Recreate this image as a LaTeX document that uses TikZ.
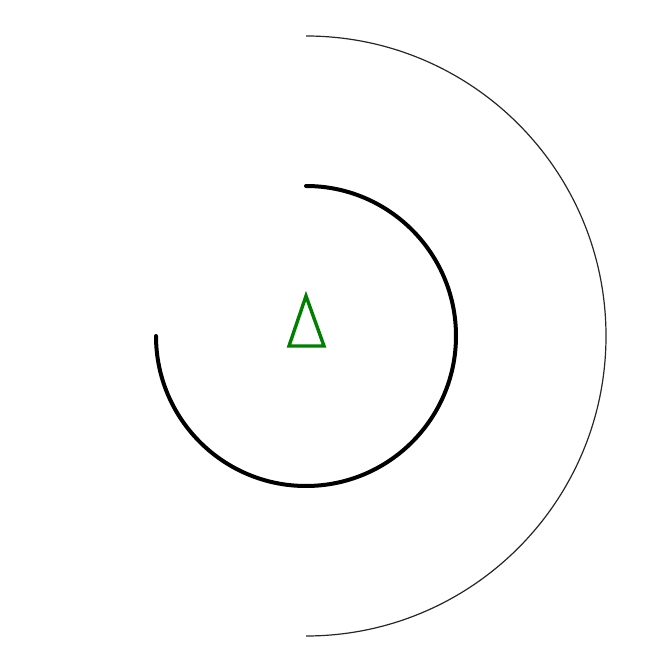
\documentclass[tikz,border=0pt]{standalone}
\definecolor{tgreen}{RGB}{0,128,0}
\begin{document}
\begin{tikzpicture}[x=1pt,y=1pt,
  innerarc/.style={line width=4pt,line cap=round,black},
  outerarc/.style={line width=1.2pt,black!85},
  tri/.style={line width=3.4pt,tgreen}]
\useasboundingbox (0,0) rectangle (648,672);
\coordinate (c) at (306,336);
\draw[outerarc] (306,636) arc[start angle=90,end angle=-90,radius=300];
\draw[innerarc] (306,486) arc[start angle=90,end angle=-180,radius=150];
\draw[tri] (306,376) -- (324,326) -- (289,326) -- cycle;
\end{tikzpicture}
\end{document}
